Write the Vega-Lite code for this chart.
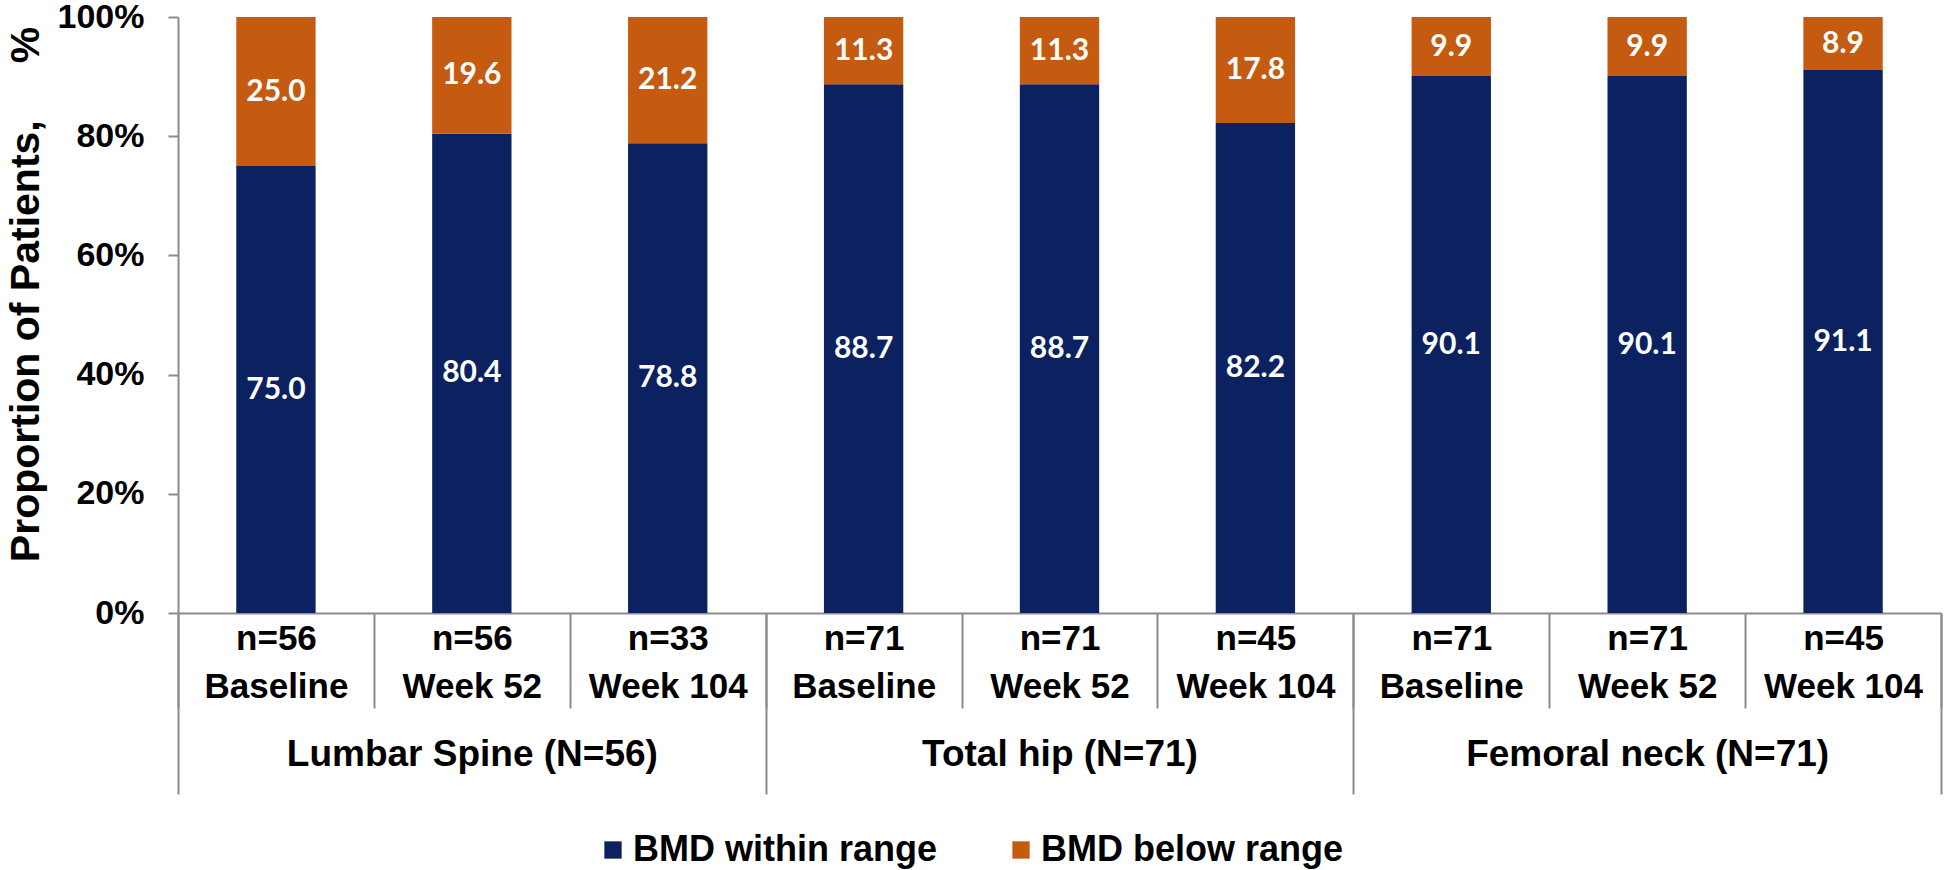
{
  "$schema": "https://vega.github.io/schema/vega-lite/v6.json",
  "width": 1763,
  "height": 596,
  "autosize": {"type": "none"},
  "padding": {"left": 178, "top": 17, "right": 3, "bottom": 257},
  "background": "white",
  "config": {"view": {"stroke": null}, "font": "Liberation Sans"},
  "layer": [
    {
      "data": {
        "values": [
          {"cat": "LS;n=56;Baseline", "series": "BMD within range", "value": 75.0},
          {"cat": "LS;n=56;Baseline", "series": "BMD below range", "value": 25.0},
          {"cat": "LS;n=56;Week 52", "series": "BMD within range", "value": 80.4},
          {"cat": "LS;n=56;Week 52", "series": "BMD below range", "value": 19.6},
          {"cat": "LS;n=33;Week 104", "series": "BMD within range", "value": 78.8},
          {"cat": "LS;n=33;Week 104", "series": "BMD below range", "value": 21.2},
          {"cat": "TH;n=71;Baseline", "series": "BMD within range", "value": 88.7},
          {"cat": "TH;n=71;Baseline", "series": "BMD below range", "value": 11.3},
          {"cat": "TH;n=71;Week 52", "series": "BMD within range", "value": 88.7},
          {"cat": "TH;n=71;Week 52", "series": "BMD below range", "value": 11.3},
          {"cat": "TH;n=45;Week 104", "series": "BMD within range", "value": 82.2},
          {"cat": "TH;n=45;Week 104", "series": "BMD below range", "value": 17.8},
          {"cat": "FN;n=71;Baseline", "series": "BMD within range", "value": 90.1},
          {"cat": "FN;n=71;Baseline", "series": "BMD below range", "value": 9.9},
          {"cat": "FN;n=71;Week 52", "series": "BMD within range", "value": 90.1},
          {"cat": "FN;n=71;Week 52", "series": "BMD below range", "value": 9.9},
          {"cat": "FN;n=45;Week 104", "series": "BMD within range", "value": 91.1},
          {"cat": "FN;n=45;Week 104", "series": "BMD below range", "value": 8.9}
        ]
      },
      "transform": [
        {"stack": "value", "groupby": ["cat"], "sort": [{"field": "series", "order": "descending"}], "as": ["y0", "y1"]},
        {"calculate": "(datum.y0 + datum.y1) / 2", "as": "ymid"}
      ],
      "encoding": {
        "x": {
          "field": "cat",
          "type": "nominal",
          "sort": ["LS;n=56;Baseline", "LS;n=56;Week 52", "LS;n=33;Week 104", "TH;n=71;Baseline", "TH;n=71;Week 52", "TH;n=45;Week 104", "FN;n=71;Baseline", "FN;n=71;Week 52", "FN;n=45;Week 104"],
          "scale": {"paddingInner": 0, "paddingOuter": 0},
          "axis": {
            "orient": "bottom",
            "title": null,
            "tickBand": "extent",
            "tickSize": 95,
            "tickColor": "#8c8c8c",
            "tickWidth": 2,
            "domainColor": "#8c8c8c",
            "domainWidth": 2,
            "labelExpr": "slice(split(datum.value, ';'), 1)",
            "labelFont": "Liberation Sans",
            "labelFontSize": 35,
            "labelFontWeight": "bold",
            "labelColor": "black",
            "labelLineHeight": 48,
            "labelBaseline": "top",
            "labelPadding": -87,
            "labelAngle": 0,
            "labelLimit": 0,
            "labelOverlap": false
          }
        },
        "y": {
          "type": "quantitative",
          "scale": {"domain": [0, 100]},
          "axis": {
            "values": [0, 20, 40, 60, 80, 100],
            "labelExpr": "datum.value + '%'",
            "grid": false,
            "tickSize": 10,
            "tickColor": "#8c8c8c",
            "tickWidth": 2,
            "domainColor": "#8c8c8c",
            "domainWidth": 2,
            "labelFont": "Liberation Sans",
            "labelFontSize": 34,
            "labelFontWeight": "bold",
            "labelColor": "black",
            "labelPadding": 24,
            "title": "Proportion of Patients, \u00a0\u00a0\u00a0\u00a0%",
            "titleFont": "Liberation Sans",
            "titleFontSize": 41,
            "titleFontWeight": "bold",
            "titleColor": "black",
            "titlePadding": 10,
            "titleY": 277
          }
        }
      },
      "layer": [
        {
          "mark": {"type": "bar", "width": {"band": 0.405}},
          "encoding": {
            "y": {"field": "y0", "type": "quantitative"},
            "y2": {"field": "y1"},
            "color": {
              "field": "series",
              "type": "nominal",
              "scale": {"domain": ["BMD within range", "BMD below range"], "range": ["#0B2160", "#C55A11"]},
              "legend": {
                "orient": "none",
                "legendX": 417,
                "legendY": 815,
                "direction": "horizontal",
                "title": null,
                "symbolType": "square",
                "symbolSize": 300,
                "symbolStrokeWidth": 0,
                "labelFont": "Liberation Sans",
                "labelFontSize": 36,
                "labelFontWeight": "bold",
                "labelColor": "black",
                "labelOffset": 2,
                "columnPadding": 66,
                "labelLimit": 0
              }
            }
          }
        },
        {
          "mark": {"type": "text", "color": "white", "font": "Lato", "fontWeight": "bold", "fontSize": 30, "baseline": "middle"},
          "encoding": {
            "y": {"field": "ymid", "type": "quantitative"},
            "text": {"field": "value", "type": "quantitative", "format": ".1f"}
          }
        }
      ]
    },
    {
      "data": {
        "values": [
          {"grp": "Lumbar Spine (N=56)"},
          {"grp": "Total hip (N=71)"},
          {"grp": "Femoral neck (N=71)"}
        ]
      },
      "mark": {"type": "rule", "opacity": 0},
      "encoding": {
        "x": {
          "field": "grp",
          "type": "nominal",
          "sort": ["Lumbar Spine (N=56)", "Total hip (N=71)", "Femoral neck (N=71)"],
          "scale": {"paddingInner": 0, "paddingOuter": 0},
          "axis": {
            "orient": "bottom",
            "title": null,
            "tickBand": "extent",
            "tickSize": 181,
            "tickColor": "#8c8c8c",
            "tickWidth": 2,
            "domain": false,
            "labelFont": "Liberation Sans",
            "labelFontSize": 37,
            "labelFontWeight": "bold",
            "labelColor": "black",
            "labelBaseline": "top",
            "labelPadding": -58,
            "labelAngle": 0,
            "labelLimit": 0,
            "labelOverlap": false
          }
        }
      }
    }
  ],
  "resolve": {"scale": {"x": "independent"}, "axis": {"x": "independent"}}
}
